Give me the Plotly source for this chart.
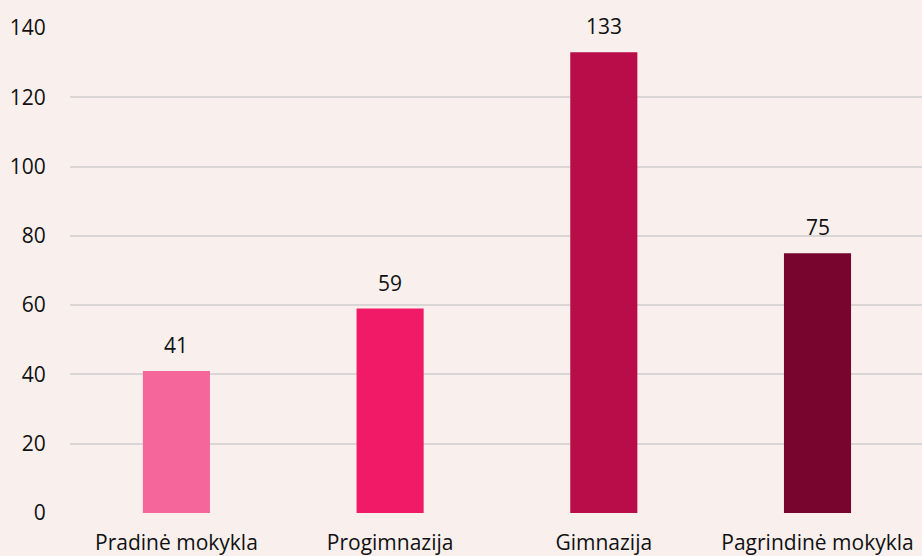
import plotly.graph_objects as go

categories = ["Pradinė mokykla", "Progimnazija", "Gimnazija", "Pagrindinė mokykla"]
values = [41, 59, 133, 75]
colors = ["#F5679B", "#F01A67", "#B90D4A", "#78052E"]
y_ticks = [0, 20, 40, 60, 80, 100, 120, 140]

FONT = "Open Sans"
FS = 21
fig = go.Figure()
fig.add_trace(go.Bar(
    x=categories, y=values, marker=dict(color=colors, line=dict(width=0)),
    width=0.314, hoverinfo="skip",
))
for c, v in zip(categories, values):
    fig.add_annotation(x=c, y=v, text=str(v), showarrow=False, yanchor="middle",
                       yshift=26, font=dict(family=FONT, size=FS, color="#111111"))

fig.update_layout(
    width=922, height=556,
    margin=dict(l=70, r=0, t=28, b=43, autoexpand=False),
    paper_bgcolor="#F9F0EE", plot_bgcolor="#F9F0EE",
    showlegend=False,
    font=dict(family=FONT, size=FS, color="#111111"),
)
fig.update_xaxes(range=[-0.498, 3.489], showgrid=False, showline=False, zeroline=False,
                 automargin=False, ticks="outside", ticklen=11, tickcolor="rgba(0,0,0,0)",
                 tickfont=dict(family=FONT, size=FS, color="#111111"))
fig.update_yaxes(range=[0, 140], tickvals=y_ticks, showgrid=True, gridcolor="#DAD6D6",
                 gridwidth=1.5, zeroline=False, showline=False, automargin=False,
                 ticks="outside", ticklen=19, tickcolor="rgba(0,0,0,0)",
                 tickfont=dict(family=FONT, size=FS, color="#111111"))
fig.write_html("out.html", config={"displayModeBar": False},
               post_script="document.body.style.margin='0';document.body.style.overflow='hidden';document.body.style.background='#F9F0EE';")
